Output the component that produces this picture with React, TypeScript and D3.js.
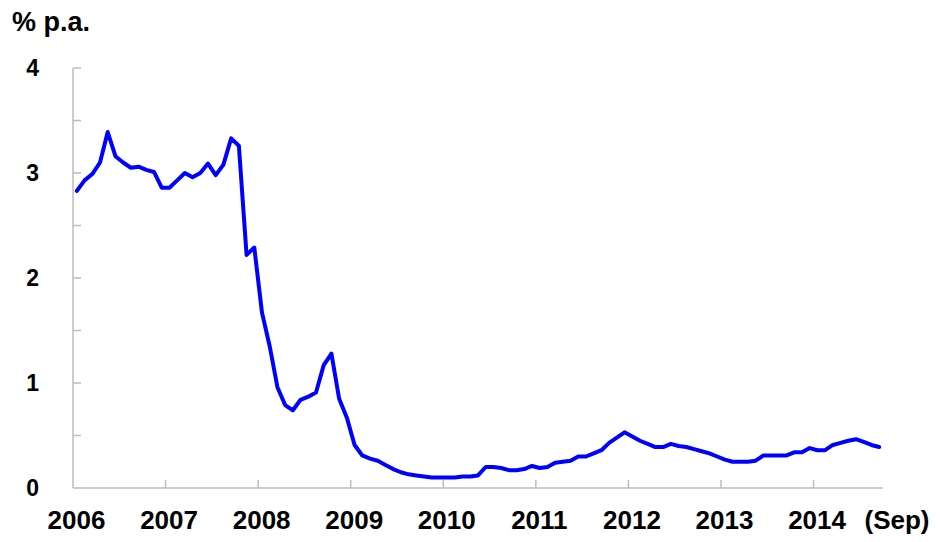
import React from "react";
import * as d3 from "d3";

// Monthly rate, Jan 2006 .. Sep 2014 (% p.a.)
const rates: number[] = [
  // 2006
  2.83, 2.93, 2.99, 3.1, 3.39, 3.16, 3.1, 3.05, 3.06, 3.03, 3.01, 2.86,
  // 2007
  2.86, 2.93, 3.0, 2.96, 3.0, 3.09, 2.98, 3.08, 3.33, 3.26, 2.22, 2.29,
  // 2008
  1.67, 1.35, 0.96, 0.79, 0.74, 0.84, 0.87, 0.91, 1.17, 1.28, 0.85, 0.67,
  // 2009
  0.41, 0.31, 0.28, 0.26, 0.22, 0.18, 0.15, 0.13, 0.12, 0.11, 0.1, 0.1,
  // 2010
  0.1, 0.1, 0.11, 0.11, 0.12, 0.2, 0.2, 0.19, 0.17, 0.17, 0.18, 0.21,
  // 2011
  0.19, 0.2, 0.24, 0.25, 0.26, 0.3, 0.3, 0.33, 0.36, 0.43, 0.48, 0.53,
  // 2012
  0.49, 0.45, 0.42, 0.39, 0.39, 0.42, 0.4, 0.39, 0.37, 0.35, 0.33, 0.3,
  // 2013
  0.27, 0.25, 0.25, 0.25, 0.26, 0.31, 0.31, 0.31, 0.31, 0.34, 0.34, 0.38,
  // 2014
  0.36, 0.36, 0.41, 0.43, 0.45, 0.465, 0.44, 0.41, 0.39,
];

const yearLabels: string[] = ["2006", "2007", "2008", "2009", "2010", "2011", "2012", "2013", "2014"];
const endLabel = "(Sep)";
const yTickLabels: number[] = [0, 1, 2, 3, 4];
const yMinorTicks: number[] = [0.5, 1, 1.5, 2, 2.5, 3, 3.5, 4];
const unitLabel = "% p.a.";

const W = 940;
const H = 542;
const left = 73;
const right = 883;
const top = 68;
const bottom = 488;

export default function App() {
  const x = d3.scaleLinear().domain([0, 105]).range([left, right]);
  const y = d3.scaleLinear().domain([0, 4]).range([bottom, top]);

  const line = d3
    .line<number>()
    .x((_, i) => x(i + 0.5))
    .y((d) => y(d));

  const axisColor = "#bdbdbd";
  const font = "'Liberation Sans', Arial, sans-serif";

  return (
    <svg
      width={W}
      height={H}
      style={{ position: "absolute", left: 0, top: 0, background: "#fff" }}
      fontFamily={font}
    >
      <text x={12} y={31} fontSize={27} fontWeight="bold" fill="#000">
        {unitLabel}
      </text>

      {/* y axis */}
      <line x1={left} x2={left} y1={top} y2={bottom} stroke={axisColor} strokeWidth={1.5} />
      {yMinorTicks.map((t) => (
        <line key={"yt" + t} x1={left} x2={left + 8} y1={y(t)} y2={y(t)} stroke={axisColor} strokeWidth={1.5} />
      ))}
      {yTickLabels.map((t) => (
        <text
          key={"yl" + t}
          x={39}
          y={y(t)}
          dy="0.36em"
          textAnchor="end"
          fontSize={23}
          fontWeight="bold"
          fill="#000"
        >
          {t}
        </text>
      ))}

      {/* x axis */}
      <line x1={left} x2={right} y1={bottom} y2={bottom} stroke={axisColor} strokeWidth={1.5} />
      {yearLabels.map((lab, k) =>
        k === 0 ? null : (
          <line
            key={"xt" + lab}
            x1={x(k * 12)}
            x2={x(k * 12)}
            y1={bottom}
            y2={bottom - 8}
            stroke={axisColor}
            strokeWidth={1.5}
          />
        )
      )}
      {yearLabels.map((lab, k) => (
        <text
          key={"xl" + lab}
          x={x(k * 12) + 3.5}
          y={529}
          textAnchor="middle"
          fontSize={26}
          fontWeight="bold"
          fill="#000"
        >
          {lab}
        </text>
      ))}
      <text x={897} y={529} textAnchor="middle" fontSize={26} fontWeight="bold" fill="#000">
        {endLabel}
      </text>

      <path
        d={line(rates) ?? ""}
        fill="none"
        stroke="#0000ff"
        strokeWidth={4}
        strokeLinejoin="round"
        strokeLinecap="round"
      />
    </svg>
  );
}
